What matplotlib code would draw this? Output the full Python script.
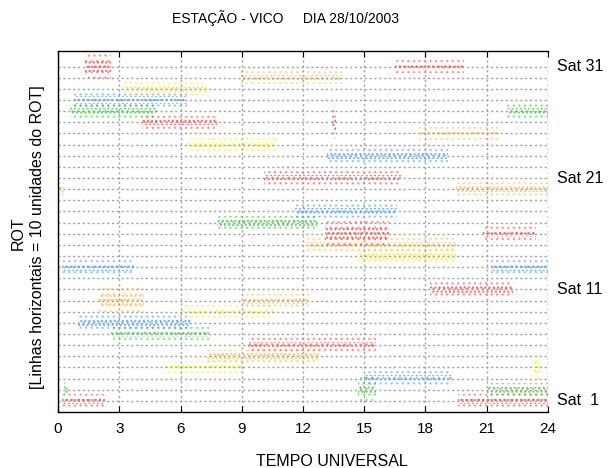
import numpy as np
import matplotlib
matplotlib.use('Agg')
import matplotlib.pyplot as plt

plt.rcParams['font.family'] = ['Liberation Sans', 'DejaVu Sans']
plt.rcParams['hatch.linewidth'] = 1.0

# Satellite passes: satellite number, start / end (UT hours),
# half-width of the ROT scatter band (ROT units)
sat_numbers = [1, 1, 2, 2, 2, 3, 4, 4, 5, 6, 7, 8, 9, 10, 10, 11, 13, 13, 14, 15,
               16, 16, 17, 18, 20, 20, 21, 23, 24, 25, 26, 26, 27, 27, 28, 29,
               30, 31, 31]
pass_start = [0.2, 19.6, 0.3, 14.7, 21.0, 15.0, 5.2, 23.3, 7.3, 9.3, 2.6, 1.0, 6.0,
              2.0, 9.0, 18.2, 0.2, 21.2, 14.7, 12.2, 13.1, 20.8, 7.8, 11.6, 0.0,
              19.5, 10.1, 13.2, 6.3, 17.7, 4.1, 13.4, 0.6, 22.0, 0.8, 3.2, 8.9,
              1.3, 16.5]
pass_end = [2.3, 24.0, 0.5, 15.6, 24.0, 19.3, 9.1, 23.6, 12.8, 15.6, 7.4, 6.5, 10.6,
            4.2, 12.3, 22.3, 3.7, 24.0, 19.5, 19.5, 16.2, 23.4, 12.7, 16.6, 0.3,
            24.0, 16.8, 19.1, 10.7, 21.6, 7.8, 13.6, 4.8, 24.0, 6.3, 7.3, 13.9,
            2.6, 19.9]
pass_spread = [6, 6, 10, 11, 6, 7, 6, 10, 6, 7, 6, 7, 6, 11, 6, 7, 7, 7, 6, 6,
               11, 7, 6, 7, 7, 6, 7, 7, 6, 6, 6, 15, 6, 6, 8, 6, 6, 12, 6]

hours = [0, 3, 6, 9, 12, 15, 18, 21, 24]
sat_labels = {31: 'Sat 31', 21: 'Sat 21', 11: 'Sat 11', 1: 'Sat  1'}

# colour cycle of the original plot (red, green, blue, yellow, orange)
sat_colors = ['#ff2020', '#20c020', '#2a8cff', '#eeee00', '#ffb020']

fig = plt.figure(figsize=(6.08, 4.68), dpi=100)
ax = fig.add_axes([58 / 608, 56 / 468, 490 / 608, 361 / 468])

for sat, t0, t1, sp in zip(sat_numbers, pass_start, pass_end, pass_spread):
    col = sat_colors[(sat - 1) % 5]
    base = 10 * sat
    # outer sparse band
    ax.fill_between([t0, t1], base - sp, base + sp, facecolor='none',
                    edgecolor=col, hatch='...', linewidth=0, alpha=0.4)
    # denser core
    ax.fill_between([t0, t1], base - sp * 0.45, base + sp * 0.45, facecolor='none',
                    edgecolor=col, hatch='....', linewidth=0, alpha=0.65)

for sat, txt in sat_labels.items():
    ax.text(24.45, 10 * sat, txt, va='center', ha='left', fontsize=11.5, clip_on=False)

ax.set_xlim(0, 24)
ax.set_ylim(0, 324)
ax.set_xticks(hours)
ax.set_yticks(np.arange(10, 320, 10))
ax.set_yticklabels([])
ax.tick_params(axis='y', length=0)
ax.tick_params(axis='x', direction='in', top=True, length=4, labelsize=11, pad=7)
ax.grid(True, color='#a0a0a0', linestyle=(0, (1.5, 2)), linewidth=1)
ax.spines['right'].set_visible(False)
for s in ['top', 'left', 'bottom']:
    ax.spines[s].set_linewidth(1)
ax.axvline(24, color='#a0a0a0', linestyle=(0, (1.5, 2)), linewidth=1)

fig.text(286 / 608, 1 - 18 / 468, 'ESTAÇÃO - VICO     DIA 28/10/2003',
         ha='center', va='center', fontsize=10)
fig.text(332 / 608, 1 - 462 / 468, 'TEMPO UNIVERSAL', ha='center', va='center',
         fontsize=11.5)
fig.text(18 / 608, 1 - 233 / 468, 'ROT', rotation=90, ha='center', va='center',
         fontsize=11.5)
fig.text(38 / 608, 1 - 237 / 468, '[Linhas horizontais = 10 unidades do ROT]',
         rotation=90, ha='center', va='center', fontsize=11.5)

fig.savefig('out.png', dpi=100)
